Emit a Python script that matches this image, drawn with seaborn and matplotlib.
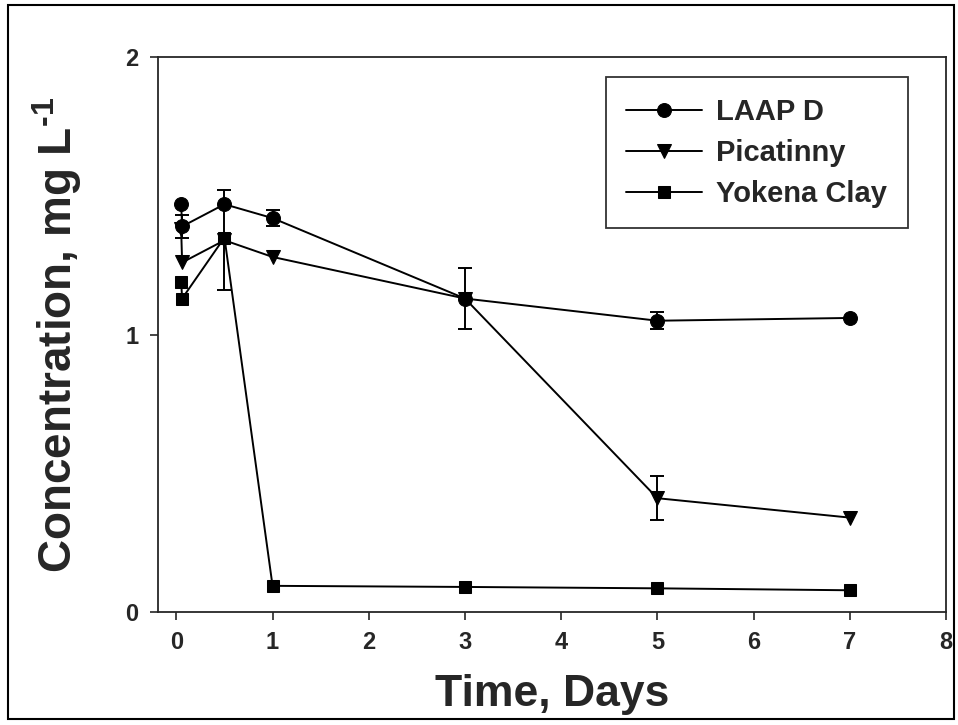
import matplotlib
matplotlib.use('Agg')
import matplotlib.pyplot as plt
import seaborn as sns
import pandas as pd
from matplotlib.patches import Rectangle

# sampling times (days)
days = [0.05, 0.06, 0.5, 1, 3, 5, 7]

# concentration, mg/L
laap = [1.47, 1.39, 1.47, 1.42, 1.13, 1.05, 1.06]
laap_err = [0, 0.04, 0, 0.03, 0, 0.03, 0]
pica = [1.38, 1.26, 1.34, 1.28, 1.13, 0.41, 0.34]
pica_err = [0, 0, 0.18, 0, 0.11, 0.08, 0]
yoke = [1.19, 1.13, 1.35, 0.094, 0.09, 0.085, 0.078]
yoke_err = [0, 0, 0, 0, 0, 0, 0]

names = ['LAAP D', 'Picatinny', 'Yokena Clay']
markers = ['o', 'v', 's']

sns.set_style('ticks')
plt.rcParams['font.family'] = ['Liberation Sans', 'DejaVu Sans']
plt.rcParams['font.weight'] = 'bold'
plt.rcParams['mathtext.fontset'] = 'custom'
plt.rcParams['mathtext.bf'] = 'Liberation Sans:bold'
plt.rcParams['mathtext.rm'] = 'Liberation Sans:bold'

fig = plt.figure(figsize=(9.58, 7.25), dpi=100)
ax = fig.add_axes([0.165, 0.156, 0.8225, 0.765])

series = [(laap, laap_err), (pica, pica_err), (yoke, yoke_err)]
for (vals, errs), name, mk in zip(series, names, markers):
    df = pd.DataFrame({'day': days, 'conc': vals})
    sns.lineplot(data=df, x='day', y='conc', ax=ax, color='black', lw=1.4,
                 marker=mk, markersize=10 if mk != 's' else 9,
                 markeredgecolor='black', label=name, errorbar=None)
    pts = [(d, v, e) for d, v, e in zip(days, vals, errs) if e > 0]
    if pts:
        ax.errorbar([p[0] for p in pts], [p[1] for p in pts],
                    yerr=[p[2] for p in pts], fmt='none', ecolor='black',
                    elinewidth=1.4, capsize=5, capthick=1.4)

ax.set_xlim(-0.19, 8)
ax.set_ylim(0, 2)
ax.set_xticks(range(0, 9))
ax.set_yticks([0, 1, 2])
ax.tick_params(direction='out', length=6, width=1.2, labelsize=17, pad=8)
for s in ax.spines.values():
    s.set_linewidth(1.3)
    s.set_visible(True)

ax.set_xlabel('Time, Days', fontsize=32, fontweight='bold', labelpad=14)
ax.set_ylabel(r'Concentration, mg L$^{\text{-1}}$', fontsize=33,
              fontweight='bold', labelpad=30)

leg = ax.legend(loc='upper right', bbox_to_anchor=(0.97, 0.99), fontsize=21,
                frameon=True, fancybox=False, edgecolor='black',
                handlelength=2.6, borderpad=0.7, labelspacing=0.45,
                handletextpad=0.5)
leg.get_frame().set_linewidth(1.3)
for t in leg.get_texts():
    t.set_fontweight('bold')

# outer frame round the whole figure
fig.patches.append(Rectangle((0.008, 0.008), 0.988, 0.985, transform=fig.transFigure,
                             fill=False, edgecolor='black', lw=1.5))

fig.savefig('out.png', dpi=100)
